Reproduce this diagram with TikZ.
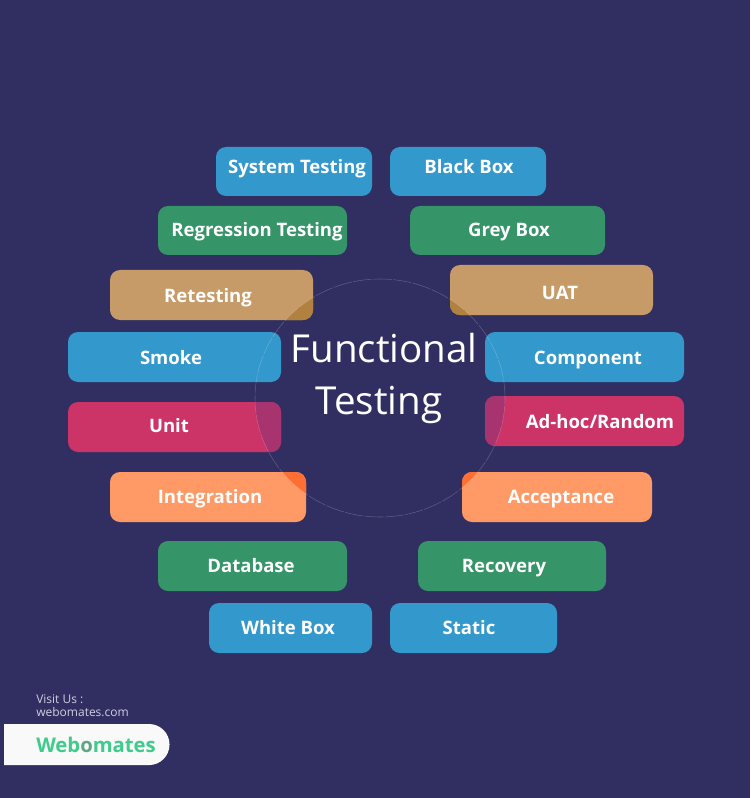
\documentclass[tikz,border=0pt]{standalone}
\usepackage{fontspec}
\setmainfont{Open Sans}
\definecolor{bgc}{HTML}{312F61}
\definecolor{bluec}{HTML}{3398CC}
\definecolor{greenc}{HTML}{359468}
\definecolor{tanc}{HTML}{C79B68}
\definecolor{tani}{HTML}{B0813F}
\definecolor{crimc}{HTML}{CC3366}
\definecolor{crimi}{HTML}{A8346F}
\definecolor{orac}{HTML}{FF9966}
\definecolor{orai}{HTML}{FF6E33}
\definecolor{logog}{HTML}{3FCB8C}
\definecolor{visitc}{HTML}{CFCEE0}
\tikzset{
  x=0.75pt,y=-0.75pt,
  boxshape/.style={rounded corners=7.5pt,inner sep=0pt,anchor=north west},
  lab/.style={text=white,font=\fontsize{13.9}{17}\selectfont\fontseries{sb}\selectfont,inner sep=0pt,text height=12.5pt,text depth=2pt},
  title/.style={text=white,font=\fontsize{28.9}{32}\selectfont,inner sep=0pt,text height=28pt,text depth=7pt},
  ring/.style={draw=white,draw opacity=0.22,line width=0.4pt,dash pattern=on 14pt off 1pt},
}
% name, x1, y1, x2, y2, colour, text x, text y, text
\newcommand{\tbox}[9]{%
  \path[fill=#6] (#2,#3) [rounded corners=7.5pt] rectangle (#4,#5);
  \node[boxshape,minimum width=0.75pt*(#4-#2)*1,minimum height=0.75pt*(#5-#3)*1] (#1) at (#2,#3) {};
  \node[lab] (#1t) at (#7,#8) {#9};
}
\newcommand{\innerbox}[5]{%
  \begin{scope}
    \clip (380,398) ellipse [x radius=93.75pt,y radius=89.25pt];
    \path[fill=#5] (#1,#2) [rounded corners=7.5pt] rectangle (#3,#4);
  \end{scope}
}
\begin{document}
\begin{tikzpicture}
\useasboundingbox (0,0) rectangle (750,798);
\fill[bgc] (0,0) rectangle (750,798);
\tbox{sys}{216}{147}{372}{196}{bluec}{297}{167}{System Testing}
\tbox{bb}{390}{147}{546}{196}{bluec}{469}{167}{Black Box}
\tbox{reg}{158}{206}{347}{255}{greenc}{257}{230}{Regression Testing}
\tbox{gb}{410}{206}{605}{255}{greenc}{509}{230}{Grey Box}
\tbox{ret}{110}{270}{313}{320}{tanc}{208}{295}{Retesting}
\tbox{uat}{450}{265}{653}{315}{tanc}{560}{292}{UAT}
\tbox{smo}{68}{332}{281}{382}{bluec}{171}{357}{Smoke}
\tbox{com}{485}{332}{684}{382}{bluec}{588}{357}{Component}
\tbox{uni}{68}{402}{281}{452}{crimc}{169}{425}{Unit}
\tbox{adh}{485}{396}{684}{446}{crimc}{600}{421}{Ad-hoc/Random}
\tbox{int}{110}{472}{306}{522}{orac}{210}{496}{Integration}
\tbox{acc}{462}{472}{652}{522}{orac}{561}{496}{Acceptance}
\tbox{dat}{158}{541}{347}{591}{greenc}{251}{565}{Database}
\tbox{rec}{418}{541}{606}{591}{greenc}{504}{565}{Recovery}
\tbox{wb}{209}{603}{372}{653}{bluec}{288}{627}{White Box}
\tbox{sta}{390}{603}{557}{653}{bluec}{469}{627}{Static}
\innerbox{110}{270}{313}{320}{tani}
\innerbox{450}{265}{653}{315}{tani}
\innerbox{68}{402}{281}{452}{crimi}
\innerbox{485}{396}{684}{446}{crimi}
\innerbox{110}{472}{306}{522}{orai}
\innerbox{462}{472}{652}{522}{orai}
\draw[ring] (380,398) ellipse [x radius=93.75pt,y radius=89.25pt];
\node[title] (ft) at (384,348) {Functional};
\node[title] (tt) at (379,400) {Testing};
\node[text=visitc,font=\fontsize{9}{10}\selectfont,anchor=west,inner sep=0pt] (vu) at (36,699) {Visit Us :};
\node[text=visitc,font=\fontsize{9}{10}\selectfont,anchor=west,inner sep=0pt] (wc) at (36,712) {webomates.com};
\fill[white!97!bgc] (4,724) -- (149,724) arc [start angle=90,end angle=-90,radius=15.4pt] -- (4,765) -- cycle;
\node[text=logog,font=\fontsize{15.2}{18}\selectfont\bfseries,anchor=west,inner sep=0pt] (logo) at (36,745) {Web\textcolor{logog!50!gray}{o}mates};
\end{tikzpicture}
\end{document}
